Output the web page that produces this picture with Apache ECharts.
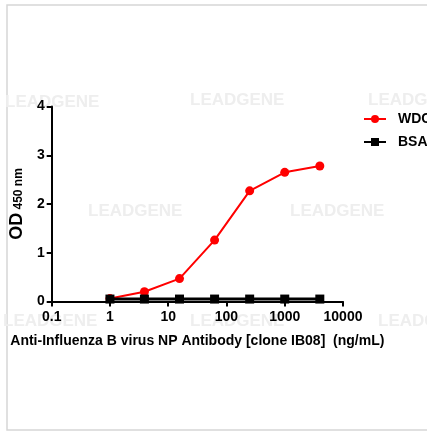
<!DOCTYPE html>
<html><head><meta charset="utf-8">
<script src="https://cdn.jsdelivr.net/npm/echarts@6/dist/echarts.min.js"></script>
<style>html,body{margin:0;padding:0;background:#fff}#c{width:427px;height:432px}</style>
</head><body><div id="c"></div>
<script>
const concentrations = [1, 3.90625, 15.625, 62.5, 250, 1000, 4000];
const wdcValues = [0.06, 0.2, 0.47, 1.26, 2.27, 2.65, 2.78];
const bsaValues = [0.05, 0.05, 0.05, 0.05, 0.05, 0.05, 0.05];
const seriesNames = ['WDC', 'BSA'];
const xTickLabels = ['0.1', '1', '10', '100', '1000', '10000'];
const yTickLabels = ['0', '1', '2', '3', '4'];
const xTitle = 'Anti-Influenza B virus NP Antibody [clone IB08]  (ng/mL)';

const chart = echarts.init(document.getElementById('c'), null, {renderer: 'canvas'});
const font = 'Liberation Sans, Arial, sans-serif';
const wm = (x, y) => ({type: 'text', left: x, top: y, z: -10, silent: true,
  style: {text: 'LEADGENE', fill: '#eeeeee', font: 'bold 17px ' + font}});
chart.setOption({
  animation: false,
  backgroundColor: '#fff',
  grid: {left: 49, right: 84, top: 106.5, bottom: 130.5, containLabel: false},
  graphic: [
    {type: 'rect', shape: {x: 7, y: 5, width: 430, height: 425}, silent: true, z: -20,
     style: {fill: 'none', stroke: '#d6d6d6', lineWidth: 1.5}},
    wm(5, 94), wm(190, 92), wm(368, 92), wm(88, 203), wm(290, 203),
    wm(3, 313), wm(190, 313), wm(378, 313)
  ],
  legend: {
    orient: 'vertical', left: 358, top: 107, itemGap: 9, itemWidth: 22, itemHeight: 10,
    textStyle: {fontFamily: font, fontWeight: 'bold', fontSize: 14, color: '#000', padding: [0, 0, 0, 7]},
    data: seriesNames
  },
  xAxis: {
    type: 'log', logBase: 10, min: 0.1, max: 10000,
    name: xTitle, nameLocation: 'middle', nameGap: 33,
    nameTextStyle: {fontFamily: font, fontWeight: 'bold', fontSize: 14, color: '#000'},
    axisLine: {lineStyle: {color: '#000', width: 2}},
    axisTick: {show: true, length: 5, lineStyle: {color: '#000', width: 2}},
    minorTick: {show: false},
    splitLine: {show: false},
    axisLabel: {fontFamily: font, fontWeight: 'bold', fontSize: 14, color: '#000', margin: 9,
      formatter: v => { const i = Math.round(Math.log10(v)) + 1; return xTickLabels[i] !== undefined ? xTickLabels[i] : ''; }}
  },
  yAxis: {
    type: 'value', min: 0, max: 4, interval: 1,
    name: '{a|OD} {b|450 nm}', nameLocation: 'middle', nameGap: 22, nameRotate: 90,
    nameTextStyle: {rich: {
      a: {fontFamily: font, fontWeight: 'bold', fontSize: 18, color: '#000'},
      b: {fontFamily: font, fontWeight: 'bold', fontSize: 12, color: '#000', padding: [4, 0, 0, 0]}
    }},
    axisLine: {show: true, lineStyle: {color: '#000', width: 2}},
    axisTick: {show: true, length: 5, lineStyle: {color: '#000', width: 2}},
    splitLine: {show: false},
    axisLabel: {fontFamily: font, fontWeight: 'bold', fontSize: 14, color: '#000', margin: 7,
      formatter: v => yTickLabels[Math.round(v)]}
  },
  series: [
    {name: seriesNames[0], type: 'line', data: concentrations.map((c, i) => [c, wdcValues[i]]),
     symbol: 'circle', symbolSize: 9, itemStyle: {color: '#ff0000'}, lineStyle: {color: '#ff0000', width: 2}, z: 3},
    {name: seriesNames[1], type: 'line', data: concentrations.map((c, i) => [c, bsaValues[i]]),
     symbol: 'rect', symbolSize: 9, itemStyle: {color: '#000'}, lineStyle: {color: '#000', width: 3}, z: 4}
  ]
});
</script></body></html>
